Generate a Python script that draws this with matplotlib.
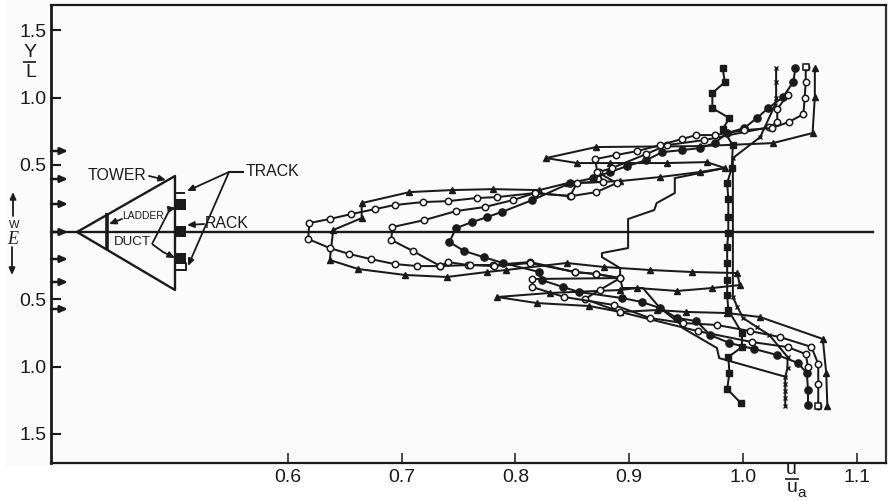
import matplotlib
matplotlib.use("Agg")
import matplotlib.pyplot as plt
from matplotlib.patches import Rectangle

plt.rcParams['font.family'] = ['Liberation Sans', 'DejaVu Sans']

tri_u = [1.063,1.063,1.061,1.026,.962,.871,.827,.854,.883,.933,.968,.984,.962,.927,.892,.846,.821,.780,.744,.707,.665,.665,.640,.637,.662,.703,.740,.775,.792,.845,.878,.918,.955,.995,.997,.973,.942,.907,.892,.830,.784,.819,.865,.892,.924,.950,.986,1.015,1.070,1.073,1.074]
tri_y = [1.219,1.003,.736,.661,.639,.632,.550,.513,.513,.513,.520,.476,.446,.409,.379,.364,.312,.319,.312,.297,.215,.104,.015,-.208,-.275,-.319,-.334,-.297,-.282,-.230,-.260,-.282,-.297,-.305,-.394,-.416,-.438,-.416,-.431,-.453,-.483,-.528,-.550,-.594,-.580,-.594,-.602,-.632,-.795,-1.048,-1.293]

opa_u = [1.055,1.055,1.054,1.053,1.040,1.025,1.001,.975,.959,.946,.927,.907,.888,.870,.872,.889,.871,.849,.817,.784,.766,.741,.719,.694,.677,.656,.637,.619,.618,.637,.654,.673,.694,.714,.734,.760,.781,.813,.852,.871,.892,.815,.815,.843,.887,.918,.947,.977,1.006,1.032,1.060,1.066,1.066,1.066]
opa_y = [1.226,1.115,.996,.877,.817,.773,.758,.721,.721,.691,.646,.602,.572,.542,.446,.364,.297,.267,.290,.260,.253,.230,.223,.201,.171,.134,.097,.067,-.052,-.119,-.163,-.201,-.238,-.253,-.253,-.245,-.253,-.230,-.297,-.312,-.342,-.349,-.409,-.483,-.543,-.639,-.676,-.691,-.736,-.780,-.854,-.981,-1.129,-1.293]

opb_u = [1.039,1.030,1.030,1.023,.966,.933,.915,.885,.873,.877,.854,.848,.817,.798,.773,.748,.720,.692,.691,.710,.734,.741,.758,.780,.813,.852,.871,.892,.874,.861,.892,.960,1.008,1.039,1.055,1.057]
opb_y = [1.018,.914,.817,.780,.684,.646,.580,.476,.446,.372,.364,.267,.290,.238,.186,.156,.089,.037,-.059,-.141,-.253,-.223,-.245,-.245,-.223,-.297,-.312,-.342,-.431,-.498,-.594,-.736,-.818,-.855,-.907,-1.004]

cir_u = [1.046,1.044,1.035,1.022,1.012,1.001,.986,.975,.962,.946,.929,.915,.898,.883,.868,.848,.815,.788,.775,.762,.748,.742,.755,.772,.789,.821,.823,.842,.856,.894,.911,.927,.942,.959,.971,.988,1.010,1.030,1.048,1.056,1.057,1.057]
cir_y = [1.219,1.115,1.003,.921,.847,.773,.736,.661,.624,.609,.594,.535,.490,.446,.401,.364,.238,.149,.111,.074,.030,-.074,-.141,-.186,-.230,-.297,-.357,-.409,-.446,-.491,-.520,-.565,-.639,-.662,-.765,-.825,-.870,-.914,-.973,-1.048,-1.174,-1.285]

sq_u = [.982,.984,.973,.973,.988,.982,.991,.990,.986,.987,.987,.987,.986,.986,.986,.986,.987,.999,.999,.987,.988,.986,.998]
sq_y = [1.219,1.115,1.033,.921,.847,.765,.646,.476,.364,.245,.111,-.007,-.111,-.230,-.357,-.468,-.580,-.751,-.855,-.929,-1.048,-1.167,-1.271]

cross_u = [1.029,1.029,1.029,1.028,1.015,.991,.991,.995,1.000,1.012,1.023,1.039,1.039,1.037,1.037,1.037,1.037,1.037]
cross_y = [1.219,1.115,.996,.944,.706,.550,-.483,-.557,-.639,-.706,-.765,-.929,-1.011,-1.078,-1.130,-1.180,-1.235,-1.293]

plain_u = [.984,.940,.940,.924,.922,.899,.899,.876,.876,.892,.892,.894,.912,.927,.944,.947,.977,.979,1.038]
plain_y = [.476,.401,.290,.215,.164,.097,-.119,-.156,-.186,-.268,-.342,-.416,-.416,-.565,-.677,-.714,-.862,-.937,-1.078]

xticks = [0.6, 0.7, 0.8, 0.9, 1.0, 1.1]
yticks = [1.5, 1.0, 0.5, -0.5, -1.0, -1.5]
ylabels = ['1.5', '1.0', '0.5', '0.5', '1.0', '1.5']

INK = '#1a1a1a'
W, H = 888, 501
fig = plt.figure(figsize=(W / 100, H / 100), dpi=100, facecolor='white')
fig.patches.append(Rectangle((5 / W, 1 - 467 / H), 883 / W, 467 / H, transform=fig.transFigure,
                             facecolor='#fbfbfb', edgecolor='none', zorder=-5))

ax = fig.add_axes([50.5 / W, 1 - 463 / H, (886 - 50.5) / W, (463 - 5) / H])
ax.patch.set_alpha(0)
ax.set_xlim(0.3917, 1.1255)
ax.set_ylim(-1.717, 1.688)
for s in ax.spines.values():
    s.set_color(INK)
    s.set_linewidth(1.6)
ax.spines['left'].set_linewidth(2)
ax.spines['right'].set_color('#333333')
ax.set_xticks(xticks, [f'{v:.1f}' for v in xticks])
ax.set_yticks(yticks, ylabels)
ax.tick_params(axis='x', direction='in', length=7, width=1.1, pad=4.5, labelsize=14, color=INK, labelcolor=INK)
ax.tick_params(axis='y', direction='in', length=7.5, width=1.5, pad=3, labelsize=14, color=INK, labelcolor=INK)

ax.axhline(0, xmin=0, xmax=(873 - 50.5) / (886 - 50.5), color=INK, lw=1.7, zorder=2)

lw, ms = 1.45, 4.8
ax.plot(plain_u, plain_y, '-', color=INK, lw=lw, zorder=3)
ax.plot(cross_u, cross_y, '-x', color=INK, lw=lw, ms=3.5, mew=1, zorder=3)
ax.plot(sq_u, sq_y, '-s', color=INK, lw=lw, ms=ms, zorder=4)
ax.plot(cir_u, cir_y, '-o', color=INK, lw=lw, ms=ms + 0.4, zorder=4)
ax.plot(tri_u, tri_y, '-^', color=INK, lw=lw, ms=ms + 0.2, zorder=4)
ax.plot(opb_u, opb_y, '-o', color=INK, mfc='white', mew=1.1, lw=lw, ms=ms - 0.2, zorder=5)
ax.plot(opa_u, opa_y, '-o', color=INK, mfc='white', mew=1.1, lw=lw, ms=ms - 0.2, zorder=5)
ax.plot([opa_u[0], opa_u[-1]], [opa_y[0], opa_y[-1]], 's', color=INK, mfc='white', mew=1.1, ms=ms, zorder=6)

# Overlay in reference pixels for the tower sketch and loose labels
ov = fig.add_axes([0, 0, 1, 1])
ov.set_xlim(0, W)
ov.set_ylim(H, 0)
ov.axis('off')
ov.patch.set_alpha(0)

def arrow(a, b, lw_=1.3, ms_=9):
    ov.annotate('', xy=b, xytext=a,
                arrowprops=dict(arrowstyle='-|>,head_length=0.45,head_width=0.2', color=INK,
                                lw=lw_, mutation_scale=ms_, shrinkA=0, shrinkB=0))

def seg(xs, ys, lw_=1.4):
    ov.plot(xs, ys, color=INK, lw=lw_, solid_capstyle='butt')

arrow_rows = [151, 179, 204, 232, 259, 282, 309]
for r in arrow_rows:
    arrow((51, r), (68, r), 1.8, 10)

seg([77, 175, 175, 77], [232, 176, 290, 232], 1.7)
seg([107, 107], [213, 250], 2.6)
for top in (199, 226, 253):
    ov.add_patch(Rectangle((175, top), 11, 11, color=INK, lw=0))
seg([175, 185], [193, 193], 1.4)
seg([175, 186, 186, 175], [263, 263, 270, 270], 1.4)

arrow((149, 176), (166, 180))
seg([244, 229], [172, 172], 1.5)
arrow((229, 172), (187, 191))
arrow((229, 172), (188, 266))
arrow((204, 224), (187, 225))
arrow((122, 219), (109, 224))
seg([152, 170], [244, 209], 1.3)
arrow((170, 209), (176, 208))
seg([152, 163], [244, 252], 1.3)
arrow((163, 252), (175, 258))
arrow((13, 216), (13, 192), 1.3, 9)
arrow((12, 247), (12, 275), 1.3, 9)

txt = dict(color=INK, va='center')
ov.text(88, 175, 'TOWER', fontsize=11.4, **txt)
ov.text(246, 172, 'TRACK', fontsize=11.4, **txt)
ov.text(205, 223, 'RACK', fontsize=11.4, **txt)
ov.text(122, 216, 'LADDER', fontsize=7.4, **txt)
ov.text(114, 242, 'DUCT', fontsize=9.6, **txt)
ov.text(14, 225, 'W', fontsize=8, ha='center', **txt)
ov.text(13, 240, 'E', fontsize=13, ha='center', family='Liberation Serif', style='italic', **txt)

ov.text(30, 52, 'Y', fontsize=14, ha='center', **txt)
seg([23, 36], [61.5, 61.5], 1.2)
ov.text(31, 72, 'L', fontsize=14, ha='center', **txt)
ov.text(791, 469, 'u', fontsize=14, ha='center', **txt)
seg([785, 799], [478.5, 478.5], 1.2)
ov.text(792, 487, 'u', fontsize=14, ha='center', **txt)
ov.text(802, 493, 'a', fontsize=11, ha='center', **txt)

fig.savefig('out.png', dpi=100, facecolor='white')
